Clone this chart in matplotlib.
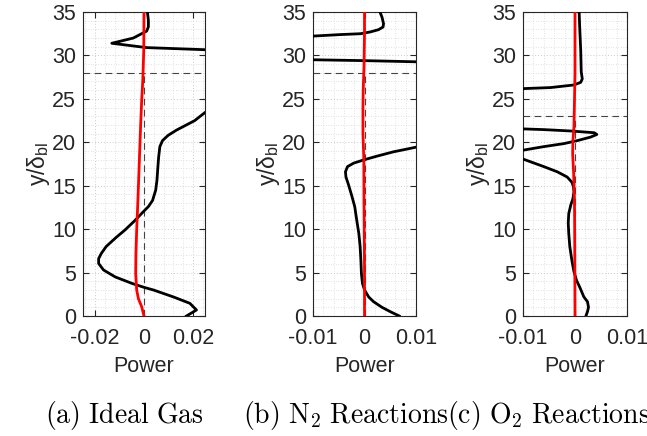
import matplotlib
matplotlib.use("Agg")
import matplotlib.pyplot as plt
from matplotlib.ticker import MultipleLocator

plt.rcParams['font.family'] = ['Liberation Sans', 'DejaVu Sans']
plt.rcParams['axes.unicode_minus'] = False

# ---------------- data ----------------
# (a) Ideal Gas
a_black_y = [0, 0.69, 1.46, 2.2, 3.0, 3.3, 3.76, 4.5, 5.3, 6.05, 6.6, 7.2, 8.0, 9.1, 9.9,
             11.0, 11.8, 12.6, 13.3, 14.5, 15.6, 17.2, 18.3, 19.5, 20.2, 20.8, 21.4, 22.0,
             22.5, 23.1, 23.7, 24.5, 26.0, 28.0, 30.0, 30.5, 30.66, 30.9, 31.4, 32.0, 32.6,
             32.8, 33.3, 34.0, 35.0]
a_black_x = [0.0174, 0.0215, 0.0188, 0.0120, 0.0038, 0.0, -0.0050, -0.0118, -0.0166,
             -0.0186, -0.0186, -0.0175, -0.0155, -0.0112, -0.0078, -0.0037, -0.0010,
             0.0018, 0.0035, 0.0048, 0.0053, 0.0057, 0.0060, 0.0065, 0.0076, 0.0099,
             0.0133, 0.0174, 0.0208, 0.0235, 0.0263, 0.035, 0.045, 0.050, 0.045, 0.030,
             0.0249, 0.0011, -0.0132, -0.0044, -0.0003, 0.0011, 0.0018, 0.0018, 0.0014]
a_red_y = [0, 1.07, 2.0, 3.0, 4.9, 7.2, 9.9, 12.6, 15.6, 18.7, 21.8, 24.8, 27.1, 30.6, 35.0]
a_red_x = [0.0, -0.00095, -0.0023, -0.0030, -0.0034, -0.0033, -0.0030, -0.0026, -0.0022,
           -0.0018, -0.0014, -0.00095, -0.0005, -0.0001, 0.0]

# (b) N2 Reactions
b_black_y = [0, 0.5, 1.0, 1.65, 2.2, 3.0, 3.76, 4.9, 6.4, 8.0, 9.5, 11.0, 12.6, 13.9, 15.1,
             16.0, 16.6, 17.2, 17.6, 18.0, 18.4, 18.9, 19.3, 19.5, 20.5, 23.0, 26.0, 28.5,
             29.2, 29.4, 29.6, 31.0, 32.0, 32.23, 32.4, 32.5, 32.7, 32.96, 33.27, 33.65,
             34.4, 35.0]
b_black_x = [0.00675, 0.0050, 0.0034, 0.00175, 0.0008, 0.0, -0.0004, -0.0006, -0.0007,
             -0.00085, -0.0011, -0.0015, -0.0019, -0.0025, -0.0031, -0.0036, -0.0037,
             -0.0033, -0.0021, 0.0, 0.0024, 0.0056, 0.0089, 0.0105, 0.020, 0.030, 0.030,
             0.025, 0.015, 0.0, -0.020, -0.030, -0.020, -0.0099, -0.0047, -0.0008, 0.0011,
             0.0027, 0.0036, 0.0037, 0.0034, 0.0030]
b_red_y = [0, 5.7, 13.3, 18.0, 21.0, 24.0, 26.0, 28.7, 32.5, 35.0]
b_red_x = [0.0, 0.0, -0.0001, -0.00013, -0.0003, -0.0003, -0.00025, -0.0001, 0.0, 0.0]

# (c) O2 Reactions
c_black_y = [0, 0.5, 1.0, 1.65, 2.2, 3.2, 4.1, 5.1, 6.4, 8.0, 9.5, 10.7, 11.8, 12.8, 13.5,
             14.3, 14.9, 15.4, 16.0, 16.6, 17.2, 17.7, 18.05, 18.5, 19.0, 19.1, 19.5, 19.85,
             20.2, 20.6, 20.9, 21.1, 21.3, 21.46, 21.54, 22.0, 24.0, 25.5, 26.0, 26.18,
             26.3, 26.6, 26.9, 27.3, 28.1, 30.6, 33.3, 35.0]
c_black_x = [0.0021, 0.0024, 0.0026, 0.0024, 0.0017, 0.0010, 0.0003, -0.0002, -0.0006,
             -0.0010, -0.0012, -0.0013, -0.0012, -0.0008, -0.0004, -0.0002, -0.0003,
             -0.0006, -0.0015, -0.0034, -0.0060, -0.0083, -0.0099, -0.014, -0.013, -0.0099,
             -0.0060, -0.0021, 0.0005, 0.0030, 0.0042, 0.0037, -0.0008, -0.0060, -0.0099,
             -0.020, -0.030, -0.020, -0.011, -0.0099, -0.0047, -0.0002, 0.0011, 0.0014,
             0.0012, 0.0011, 0.0009, 0.0008]
c_red_y = [0, 9.5, 13.3, 16.4, 18.7, 20.2, 21.8, 24.8, 28.0, 35.0]
c_red_x = [0.0, -0.00006, -0.0001, -0.00026, -0.00045, -0.0004, -0.0002, -0.0001, 0.0, 0.0]

cutoffs = [28, 28, 23]
xlims = [0.025, 0.01, 0.01]
xticks = [[-0.02, 0, 0.02], [-0.01, 0, 0.01], [-0.01, 0, 0.01]]
xticklabels = [["-0.02", "0", "0.02"], ["-0.01", "0", "0.01"], ["-0.01", "0", "0.01"]]
xminor = [0.004, 0.002, 0.002]
yticks = [0, 5, 10, 15, 20, 25, 30, 35]
captions = [r"$\mathrm{(a)\ Ideal\ Gas}$", r"$\mathrm{(b)\ N_2\ Reactions}$",
            r"$\mathrm{(c)\ O_2\ Reactions}$"]
caption_x = [45, 243, 447]

blacks = [(a_black_x, a_black_y), (b_black_x, b_black_y), (c_black_x, c_black_y)]
reds = [(a_red_x, a_red_y), (b_red_x, b_red_y), (c_red_x, c_red_y)]

# ---------------- figure ----------------
W, H = 647, 436
fig = plt.figure(figsize=(W / 100, H / 100), dpi=100)
lefts = [83, 313, 523]
rights = [205, 416, 627]
top, bottom = 12, 316
axcol = '#262626'
fs = 15.5

for i in range(3):
    ax = fig.add_axes([lefts[i] / W, 1 - bottom / H, (rights[i] - lefts[i]) / W,
                       (bottom - top) / H])
    ax.set_xlim(-xlims[i], xlims[i])
    ax.set_ylim(0, 35)
    ax.set_xticks(xticks[i])
    ax.set_xticklabels(xticklabels[i])
    ax.set_yticks(yticks)
    ax.xaxis.set_minor_locator(MultipleLocator(xminor[i]))
    ax.yaxis.set_minor_locator(MultipleLocator(1))
    ax.grid(which='major', color='#cccccc', linestyle=(0, (1, 2)), linewidth=0.7)
    ax.grid(which='minor', color='#d8d8d8', linestyle=(0, (1, 2)), linewidth=0.6)
    ax.set_axisbelow(True)
    ax.tick_params(axis='x', which='major', pad=9)
    ax.tick_params(axis='y', which='major', pad=5)
    ax.tick_params(which='major', direction='in', length=4, width=0.8, top=True,
                   right=True, colors=axcol, labelsize=fs, labelcolor=axcol)
    ax.tick_params(which='minor', length=0)
    for s in ax.spines.values():
        s.set_color(axcol)
        s.set_linewidth(0.8)

    # reference dashed lines
    ax.axhline(cutoffs[i], color='#444444', linestyle=(0, (6, 4)), linewidth=0.8, zorder=2)
    ax.plot([0, 0], [0, cutoffs[i]], color='#444444', linestyle=(0, (6, 4)),
            linewidth=0.8, zorder=2)

    bx, by = blacks[i]
    rx, ry = reds[i]
    ax.plot(bx, by, color='black', linewidth=2.0, zorder=3)
    ax.plot(rx, ry, color='#ff0000', linewidth=2.0, zorder=4)

    ax.set_xlabel('Power', fontsize=fs, color=axcol, labelpad=5)
    ax.set_ylabel(r'y/δ$_{\mathregular{bl}}$', fontsize=16.5, color=axcol, labelpad=0)

    fig.text(caption_x[i] / W, 1 - 415 / H, captions[i], fontsize=20,
             math_fontfamily='cm', ha='left', va='center', color='black')

fig.savefig('out.png', dpi=100)
